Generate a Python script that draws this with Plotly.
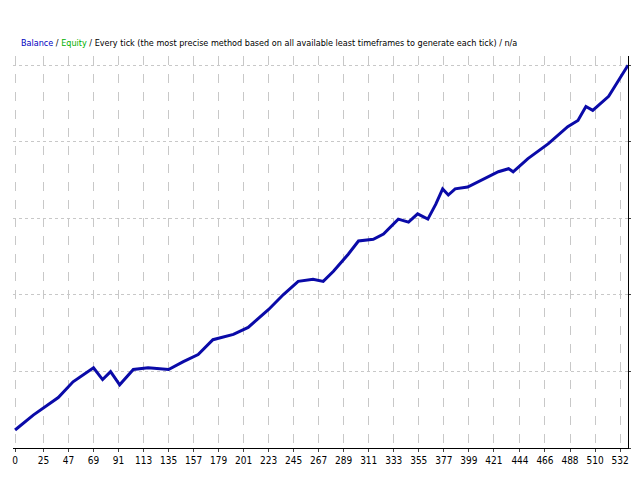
import plotly.graph_objects as go

idx = [0,16,38,51,69,77,84,92,104,117,135,148,161,174,192,205,223,236,249,262,271,280,293,302,315,324,337,346,354,363,370,376,381,387,398,416,425,434,438,451,469,486,495,502,508,522,532,539]
bal = [94,128,168,204,236,209,227,197,232,236,232,250,266,300,312,328,369,403,433,438,433,456,495,525,529,541,575,568,587,575,609,644,630,644,648,671,683,690,683,713,747,786,800,832,823,855,896,926]
xticks = [0,25,47,69,91,113,135,157,179,201,223,245,267,289,311,333,355,377,399,421,444,466,488,510,532]
yticks = [53,228,402,577,752,926]

fig = go.Figure(go.Scatter(x=idx, y=bal, mode="lines", line=dict(color="#0A0AA8", width=3), hoverinfo="skip"))
fnt = dict(family="DejaVu Sans Condensed, Liberation Sans Narrow", size=10, color="black")
fig.update_layout(
    width=640, height=480, margin=dict(l=5, r=20, t=48, b=40),
    paper_bgcolor="white", plot_bgcolor="white", showlegend=False,
    xaxis=dict(range=[-1.8, 539], tickvals=xticks, showgrid=True, gridcolor="#c8c8c8", griddash="dash", automargin=False,
               zeroline=False, showline=True, linecolor="black", linewidth=1, ticks="outside", ticklen=3, tickfont=fnt),
    yaxis=dict(range=[53, 947], tickvals=yticks, side="right", showgrid=True, gridcolor="#c8c8c8", griddash="dot", automargin=False,
               zeroline=False, showline=True, linecolor="black", linewidth=1, ticks="outside", ticklen=2, tickfont=dict(fnt, size=9)),
    annotations=[dict(x=0.009, y=1 + (48-35)/392, xref="paper", yref="paper", showarrow=False, xanchor="left", yanchor="middle",
                      font=dict(fnt, size=9),
                      text="<span style='color:#0000C0'>Balance</span> / <span style='color:#00B000'>Equity</span> / Every tick (the most precise method based on all available least timeframes to generate each tick) / n/a")]
)
fig.write_html("out.html")
